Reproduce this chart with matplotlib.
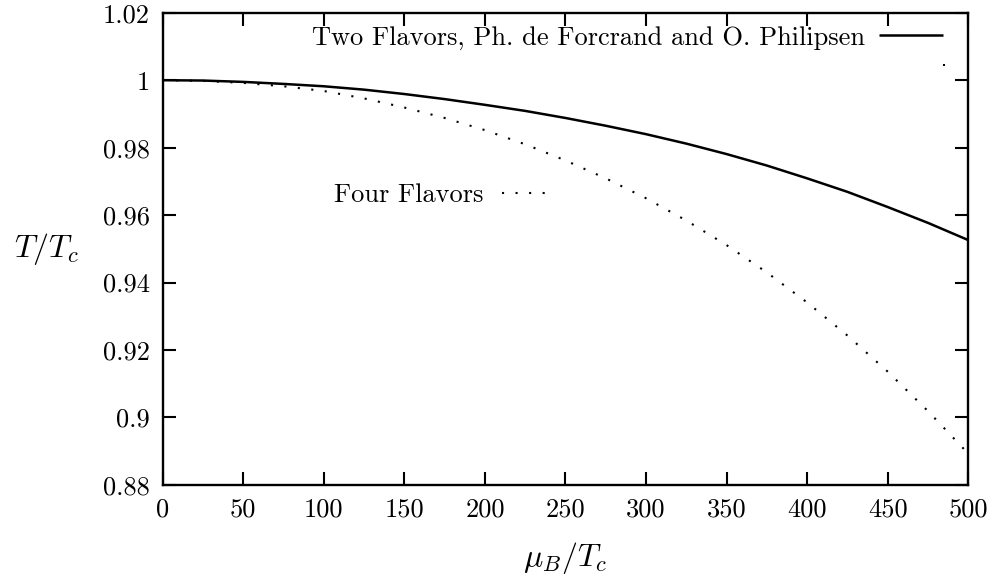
import numpy as np
import matplotlib.pyplot as plt
from matplotlib.lines import Line2D

# datos
mu = [0, 25, 50, 75, 100, 125, 150, 175, 200, 225, 250,
      275, 300, 325, 350, 375, 400, 425, 450, 475, 500]
two_flavors = [1.0, 0.9999, 0.9995, 0.9989, 0.9982, 0.9972, 0.9959, 0.9944,
               0.9927, 0.9909, 0.9888, 0.9865, 0.9840, 0.9812, 0.9781, 0.9747,
               0.9709, 0.9669, 0.9624, 0.9577, 0.9526]
four_flavors = [1.0, 0.9998, 0.9992, 0.9982, 0.9968, 0.9946, 0.9919, 0.9888,
                0.9852, 0.9810, 0.9762, 0.9709, 0.9650, 0.9584, 0.9511, 0.9430,
                0.9341, 0.9243, 0.9136, 0.9019, 0.8893]
stray_x = [485]
stray_y = [1.0046]

xticks = [0, 50, 100, 150, 200, 250, 300, 350, 400, 450, 500]
yticks = [0.88, 0.9, 0.92, 0.94, 0.96, 0.98, 1.0, 1.02]
ylabels = ['0.88', '0.9', '0.92', '0.94', '0.96', '0.98', '1', '1.02']

plt.rcParams['font.family'] = 'serif'
plt.rcParams['font.serif'] = ['cmr10', 'DejaVu Serif']
plt.rcParams['mathtext.fontset'] = 'cm'
plt.rcParams['axes.formatter.use_mathtext'] = True

fs = 19
fig = plt.figure(figsize=(9.92, 5.8), dpi=100)
ax = fig.add_axes([0.164, 0.164, 0.812, 0.814])

dots = (0, (1, 5.5))
l2, = ax.plot(mu, two_flavors, color='black', lw=1.8, solid_capstyle='butt')
l4, = ax.plot(mu, four_flavors, color='black', lw=1.5, linestyle=dots,
              dash_capstyle='butt')
ax.plot(stray_x, stray_y, 's', color='black', ms=1.6, mew=0)

ax.set_xlim(0, 500)
ax.set_ylim(0.88, 1.02)
ax.set_xticks(xticks)
ax.set_xticklabels([str(t) for t in xticks])
ax.set_yticks(yticks)
ax.set_yticklabels(ylabels)
ax.tick_params(direction='in', length=9.5, width=1.5, labelsize=fs,
               top=True, right=True, pad=9)
for s in ax.spines.values():
    s.set_linewidth(1.7)

ax.set_xlabel(r'$\mu_B/T_c$', fontsize=23, va='center')
ax.xaxis.set_label_coords(0.5, -0.155)
ax.set_ylabel(r'$T/T_c$', fontsize=23, rotation=0, ha='center', va='center')
ax.yaxis.set_label_coords(-0.144, 0.5)

# leyendas separadas, como en el original
leg1 = ax.legend([l2], ['Two Flavors, Ph. de Forcrand and O. Philipsen'],
                 loc='center right', bbox_to_anchor=(0.969, 0.947),
                 frameon=False, fontsize=fs, markerfirst=False,
                 handlelength=2.45, handletextpad=0.5, borderpad=0,
                 borderaxespad=0)
ax.add_artist(leg1)
ax.legend([Line2D([], [], color='black', lw=1.5, linestyle=dots)],
          ['Four Flavors'], loc='center right', bbox_to_anchor=(0.478, 0.614),
          frameon=False, fontsize=fs, markerfirst=False,
          handlelength=1.75, handletextpad=0.7, borderpad=0, borderaxespad=0)

fig.savefig('out.png', dpi=100)
